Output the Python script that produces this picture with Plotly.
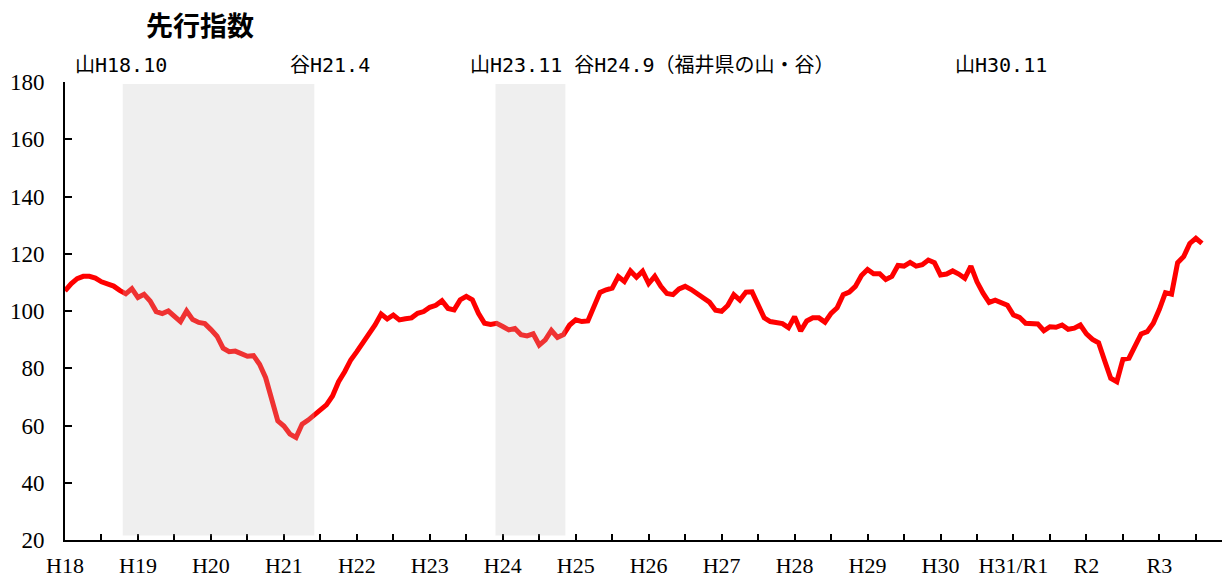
import plotly.graph_objects as go

# ---- data (monthly, Jan H18 (2006) onwards) ----
values = [
    107.0, 109.5, 111.3, 112.1, 112.1, 111.5, 110.2, 109.3, 108.7, 107.2, 106.0, 107.8,
    104.7, 105.8, 103.5, 99.8, 99.1, 100.0, 98.1, 96.3, 100.0, 97.0, 96.0, 95.6,
    93.5, 91.2, 87.0, 85.8, 86.0, 85.1, 84.2, 84.4, 81.4, 76.7, 69.8, 61.6,
    59.8, 57.0, 55.8, 60.5, 61.9, 63.7, 65.8, 67.2, 70.3, 75.3, 78.8, 82.9,
    85.8, 88.7, 91.6, 95.1, 98.9, 97.2, 98.6, 96.9, 97.3, 97.6, 99.2, 99.8,
    101.3, 102.0, 103.6, 100.9, 100.4, 103.9, 105.1, 103.9, 99.2, 95.7, 95.3, 95.7,
    94.6, 93.4, 93.9, 91.7, 91.3, 92.0, 88.1, 89.9, 93.2, 90.8, 91.8, 95.1,
    96.9, 96.3, 96.5, 101.4, 106.5, 107.4, 108.0, 112.0, 110.3, 114.0, 111.8, 113.9,
    109.6, 112.1, 108.6, 106.1, 105.7, 107.7, 108.6, 107.5, 106.0, 104.9, 103.1, 100.3,
    99.9, 101.9, 105.7, 103.8, 106.6, 106.7, 101.9, 97.6, 96.3, 96.0, 95.6, 94.2,
    98.0, 93.0, 96.5, 97.6, 97.6, 96.1, 99.2, 101.1, 105.7, 106.6, 108.6, 112.4,
    114.5, 113.0, 113.0, 111.0, 112.1, 115.9, 115.7, 117.0, 115.7, 116.2, 117.8, 116.9,
    112.6, 112.9, 114.0, 112.9, 111.4, 115.7, 110.2, 106.2, 103.0, 103.8, 102.7, 102.0,
    98.6, 97.8, 95.7, 95.7, 95.5, 93.1, 94.5, 94.3, 95.1, 93.6, 94.0, 95.1,
    92.0, 90.1, 88.9, 82.6, 76.5, 75.3, 83.1, 83.5, 88.1, 92.0, 92.8, 95.7,
    100.6, 106.4, 105.9, 116.9, 119.0, 123.6, 125.4, 123.6,
]
months = list(range(len(values)))

year_labels = ["H18", "H19", "H20", "H21", "H22", "H23", "H24", "H25",
               "H26", "H27", "H28", "H29", "H30", "H31/R1", "R2", "R3"]
year_starts = [12 * k for k in range(len(year_labels))]

# recession (peak -> trough) periods, in month index
shade_start = [9.5, 70.8]
shade_end = [41.0, 82.3]

title_text = "先行指数"
notes = ["山H18.10", "谷H21.4", "山H23.11 谷H24.9（福井県の山・谷）", "山H30.11"]
notes_px = [73, 288, 468, 953]

# ---- figure ----
W, H = 1224, 579
L, R, T, B = 65, 2, 82, 39
pw = W - L - R
ph = H - T - B

fig = go.Figure()
fig.add_trace(go.Scatter(
    x=months, y=values, mode="lines",
    line=dict(color="#FF0000", width=5),
    hoverinfo="skip", showlegend=False,
))

for s, e in zip(shade_start, shade_end):
    fig.add_shape(type="rect", xref="x", yref="y", x0=s, x1=e, y0=21.6, y1=179.3,
                  fillcolor="rgba(193,193,193,0.26)", line=dict(width=0), layer="above")

# top border line (gray)
fig.add_shape(type="line", xref="paper", yref="y", x0=0, x1=1.01, y0=180.5, y1=180.5,
              line=dict(color="#888888", width=2), layer="above")

cjk = "DejaVu Sans Mono, Noto Sans CJK JP"
fig.add_annotation(text="<b>" + title_text + "</b>", xref="paper", yref="paper",
                   x=(200 - L) / pw, y=(H - B - 25) / ph, xanchor="center", yanchor="middle",
                   showarrow=False, font=dict(family="Noto Sans CJK JP", size=27, color="#000"))
for t, px in zip(notes, notes_px):
    fig.add_annotation(text=t, xref="paper", yref="paper",
                       x=(px - L) / pw, y=(H - B - 65) / ph, xanchor="left", yanchor="middle",
                       showarrow=False, font=dict(family=cjk, size=20, color="#000"))

fig.update_layout(
    width=W, height=H,
    margin=dict(l=L, r=R, t=T, b=B, pad=0, autoexpand=False),
    paper_bgcolor="white", plot_bgcolor="white",
    xaxis=dict(
        range=[0, 190.3], tickmode="array", tickvals=year_starts, ticktext=year_labels,
        ticks="inside", ticklen=6, tickwidth=1.5, tickcolor="#000",
        minor=dict(tickmode="linear", tick0=6, dtick=12, ticks="inside", ticklen=6,
                   tickwidth=1.5, tickcolor="#000", showgrid=False),
        showline=True, linecolor="#000", linewidth=2, showgrid=False, zeroline=False,
        tickfont=dict(family="Liberation Serif", size=22, color="#000"),
        ticklabelstandoff=5, fixedrange=True, automargin=False,
    ),
    yaxis=dict(
        range=[20, 180], tickmode="linear", tick0=20, dtick=20,
        ticks="inside", ticklen=7, tickwidth=1.5, tickcolor="#000",
        showline=True, linecolor="#000", linewidth=2, showgrid=False, zeroline=False,
        tickfont=dict(family="Liberation Serif", size=23, color="#000"),
        ticklabelstandoff=14, fixedrange=True, automargin=False,
    ),
)

fig.write_html(
    "out.html",
    config={"displayModeBar": False},
    post_script="document.body.style.margin='0';document.body.style.overflow='hidden';",
)
